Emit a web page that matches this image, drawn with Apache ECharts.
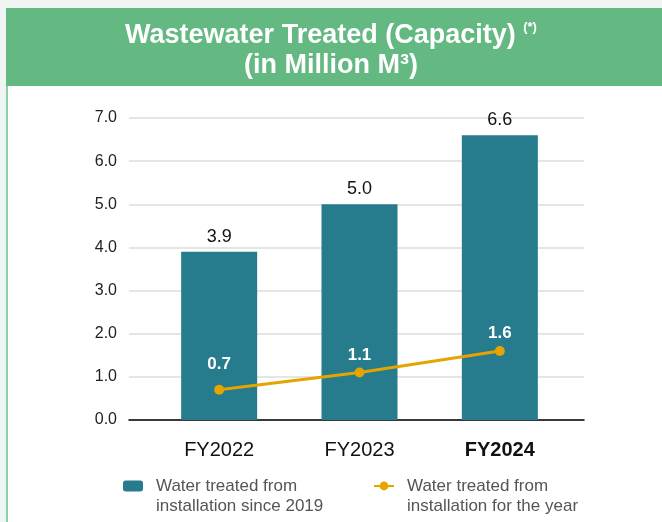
<!DOCTYPE html>
<html>
<head>
<meta charset="utf-8">
<script src="https://cdn.jsdelivr.net/npm/echarts@6/dist/echarts.min.js"></script>
<style>
html,body{margin:0;padding:0;background:#eef5f2;}
#chart{width:662px;height:522px;}
</style>
</head>
<body>
<div id="chart"></div>
<script>
const categories = ['FY2022', 'FY2023', 'FY2024'];
const cumulativeValues = [3.9, 5.0, 6.6];
const yearValues = [0.7, 1.1, 1.6];
const yTicks = [0, 1, 2, 3, 4, 5, 6, 7];
const seriesNames = ['Water treated from\ninstallation since 2019', 'Water treated from\ninstallation for the year'];
const titleLine1 = 'Wastewater Treated (Capacity) ';
const titleNote = '(*)';
const titleLine2 = '(in Million M³)';

const FONT = '"Liberation Sans", Arial, Helvetica, sans-serif';
const chart = echarts.init(document.getElementById('chart'), null, {renderer: 'canvas'});

const legendText = {fontFamily: FONT, fontSize: 17, color: '#555555', lineHeight: 20, padding: [0, 0, 0, 8]};

const option = {
  backgroundColor: '#eef5f2',
  animation: false,
  textStyle: {fontFamily: FONT},
  graphic: [
    {type: 'rect', z: -10, shape: {x: 6, y: 8, width: 656, height: 78}, style: {fill: '#64b982'}},
    {type: 'rect', z: -10, shape: {x: 6, y: 86, width: 656, height: 436}, style: {fill: '#ffffff'}},
    {type: 'rect', z: -9, shape: {x: 6, y: 86, width: 2, height: 436}, style: {fill: '#8dd0a6'}}
  ],
  title: {
    left: 'center',
    top: 16,
    text: '{a|' + titleLine1 + '}{s|' + titleNote + '}\n{a|' + titleLine2 + '}',
    textStyle: {
      rich: {
        a: {fontFamily: FONT, fontSize: 27, fontWeight: 'bold', color: '#ffffff', lineHeight: 30},
        s: {fontFamily: FONT, fontSize: 13, fontWeight: 'bold', color: '#ffffff', verticalAlign: 'top', lineHeight: 14}
      }
    }
  },
  legend: [
    {
      left: 123, top: 456, padding: 0,
      data: [seriesNames[0]],
      itemWidth: 20, itemHeight: 11,
      selectedMode: false,
      formatter: n => ' \n' + n,
      textStyle: legendText
    },
    {
      left: 373, top: 456, padding: 0,
      data: [seriesNames[1]],
      itemWidth: 20, itemHeight: 11,
      selectedMode: false,
      formatter: n => ' \n' + n,
      textStyle: legendText
    }
  ],
  grid: [
    {left: 129, right: 78, top: 118, bottom: 102},
    {left: 149, right: 92, top: 118, bottom: 102}
  ],
  xAxis: [
    {
      gridIndex: 0, type: 'category', data: categories,
      axisLine: {show: true, lineStyle: {color: '#000000', width: 1.5}},
      axisTick: {show: false}, axisLabel: {show: false}, splitLine: {show: false}
    },
    {
      gridIndex: 1, type: 'category', data: categories,
      axisLine: {show: false}, axisTick: {show: false},
      axisLabel: {
        margin: 20,
        fontFamily: FONT, fontSize: 20, color: '#111111',
        formatter: (v, i) => i === categories.length - 1 ? '{b|' + v + '}' : v,
        rich: {b: {fontFamily: FONT, fontSize: 20, fontWeight: 'bold', color: '#111111'}}
      }
    }
  ],
  yAxis: [
    {
      gridIndex: 0, type: 'value',
      min: yTicks[0], max: yTicks[yTicks.length - 1], interval: yTicks[1] - yTicks[0],
      axisLine: {show: false}, axisTick: {show: false},
      axisLabel: {margin: 12, fontFamily: FONT, fontSize: 16, color: '#222222', formatter: v => v.toFixed(1)},
      splitLine: {show: true, lineStyle: {color: '#dcdcdc', width: 1.5}}
    },
    {
      gridIndex: 1, type: 'value',
      min: yTicks[0], max: yTicks[yTicks.length - 1], interval: yTicks[1] - yTicks[0],
      show: false
    }
  ],
  series: [
    {
      name: seriesNames[0], type: 'bar',
      xAxisIndex: 1, yAxisIndex: 1,
      data: cumulativeValues,
      barWidth: 76,
      itemStyle: {color: '#267b8d'},
      label: {
        show: true, position: 'top', distance: 6,
        fontFamily: FONT, fontSize: 18, color: '#111111',
        formatter: p => p.value.toFixed(1)
      },
      z: 2
    },
    {
      name: seriesNames[1], type: 'line',
      xAxisIndex: 1, yAxisIndex: 1,
      data: yearValues.map((v, i) => i === 0 ? {value: v, label: {offset: [0, -8]}} : v),
      symbol: 'circle', symbolSize: 10,
      lineStyle: {color: '#e6a400', width: 3},
      itemStyle: {color: '#e6a400'},
      label: {
        show: true, position: 'top', distance: 4,
        fontFamily: FONT, fontSize: 17, fontWeight: 'bold', color: '#ffffff',
        formatter: p => Number(p.value).toFixed(1)
      },
      z: 5
    }
  ]
};
chart.setOption(option);
</script>
</body>
</html>
